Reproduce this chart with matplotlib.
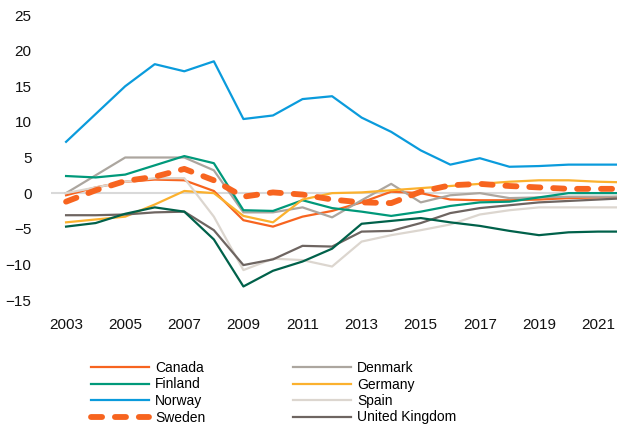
import matplotlib
matplotlib.use("Agg")
import matplotlib.pyplot as plt

plt.rcParams['font.family'] = ['Liberation Sans', 'DejaVu Sans']

years = list(range(2003, 2023))

canada  = [-0.3, 0.8, 1.6, 1.9, 1.8, 0.3, -3.8, -4.7, -3.3, -2.5, -1.3, 0.2, 0.0, -0.9, -1.0, -1.0, -0.9, -0.7, -0.6, -0.5]
denmark = [0.0, 2.5, 5.0, 5.0, 5.0, 3.2, -2.7, -2.7, -2.0, -3.4, -1.0, 1.3, -1.3, -0.3, 0.0, -0.7, -0.6, -0.5, -0.5, -0.5]
finland = [2.4, 2.2, 2.6, 3.9, 5.2, 4.2, -2.4, -2.5, -1.0, -2.1, -2.6, -3.2, -2.6, -1.8, -1.3, -1.2, -0.6, 0.0, 0.0, 0.0]
germany = [-4.1, -3.7, -3.3, -1.6, 0.3, 0.0, -3.2, -4.1, -0.9, 0.0, 0.1, 0.4, 0.7, 1.0, 1.3, 1.6, 1.8, 1.8, 1.6, 1.5]
norway  = [7.2, 11.1, 15.0, 18.1, 17.1, 18.5, 10.4, 10.9, 13.2, 13.6, 10.6, 8.6, 6.0, 4.0, 4.9, 3.7, 3.8, 4.0, 4.0, 4.0]
spain   = [0.0, 0.8, 1.6, 2.1, 2.1, -3.3, -10.8, -9.2, -9.4, -10.3, -6.8, -5.9, -5.2, -4.4, -3.0, -2.4, -2.0, -2.0, -2.0, -2.0]
sweden  = [-1.2, 0.4, 1.7, 2.3, 3.4, 1.8, -0.5, 0.1, -0.2, -0.9, -1.3, -1.4, 0.2, 1.1, 1.3, 1.0, 0.8, 0.6, 0.6, 0.6]
uk      = [-3.1, -3.1, -3.0, -2.7, -2.6, -5.2, -10.1, -9.3, -7.4, -7.5, -5.4, -5.3, -4.2, -2.8, -2.1, -1.7, -1.3, -1.1, -0.9, -0.7]
other   = [-4.7, -4.2, -2.9, -2.0, -2.6, -6.5, -13.1, -10.9, -9.6, -7.8, -4.3, -3.9, -3.5, -4.1, -4.6, -5.3, -5.9, -5.5, -5.4, -5.4]

xticks = [2003, 2005, 2007, 2009, 2011, 2013, 2015, 2017, 2019, 2021]
yticks = [-15, -10, -5, 0, 5, 10, 15, 20, 25]

fig = plt.figure(figsize=(6.27, 4.25), dpi=100)
ax = fig.add_axes([51/627, 1-300/425, 566/627, 285/425])

ax.axhline(0, color='#d9d9d9', lw=1.5, zorder=0)

c_orange = '#f7641f'
series = [
    ('Canada', canada, c_orange),
    ('Denmark', denmark, '#aca69f'),
    ('Finland', finland, '#00997a'),
    ('Germany', germany, '#fbb12e'),
    ('Norway', norway, '#0a9bdc'),
    ('Spain', spain, '#dcd6cf'),
    ('United Kingdom', uk, '#6e6561'),
]
handles = {}
for name, vals, col in series:
    h, = ax.plot(years, vals, color=col, lw=1.6, label=name, zorder=2)
    handles[name] = h
ax.plot(years, other, color='#00614a', lw=1.6, label='_nolegend_', zorder=2)
hs, = ax.plot(years, sweden, color=c_orange, lw=4.2, dashes=(1.9, 2.2),
              dash_capstyle='round', label='Sweden', zorder=3)
handles['Sweden'] = hs

ax.set_xlim(2002.49, 2021.64)
ax.set_ylim(-15, 25)
ax.set_xticks(xticks)
ax.set_yticks(yticks)
ax.tick_params(length=0, labelsize=11, colors='#111111')
ax.tick_params(axis='y', pad=14)
ax.tick_params(axis='x', pad=13)
for s in ax.spines.values():
    s.set_visible(False)

kw = dict(frameon=False, fontsize=10, handlelength=4.2, handletextpad=0.4,
          labelspacing=0.18, borderpad=0, borderaxespad=0, loc='upper left')
col1 = ['Canada', 'Finland', 'Norway', 'Sweden']
col2 = ['Denmark', 'Germany', 'Spain', 'United Kingdom']
fig.legend([handles[n] for n in col1], col1,
           bbox_to_anchor=(91/627, 1-361/425), **kw)
fig.legend([handles[n] for n in col2], col2,
           bbox_to_anchor=(293/627, 1-361/425), **kw)

fig.savefig('out.png', dpi=100)
